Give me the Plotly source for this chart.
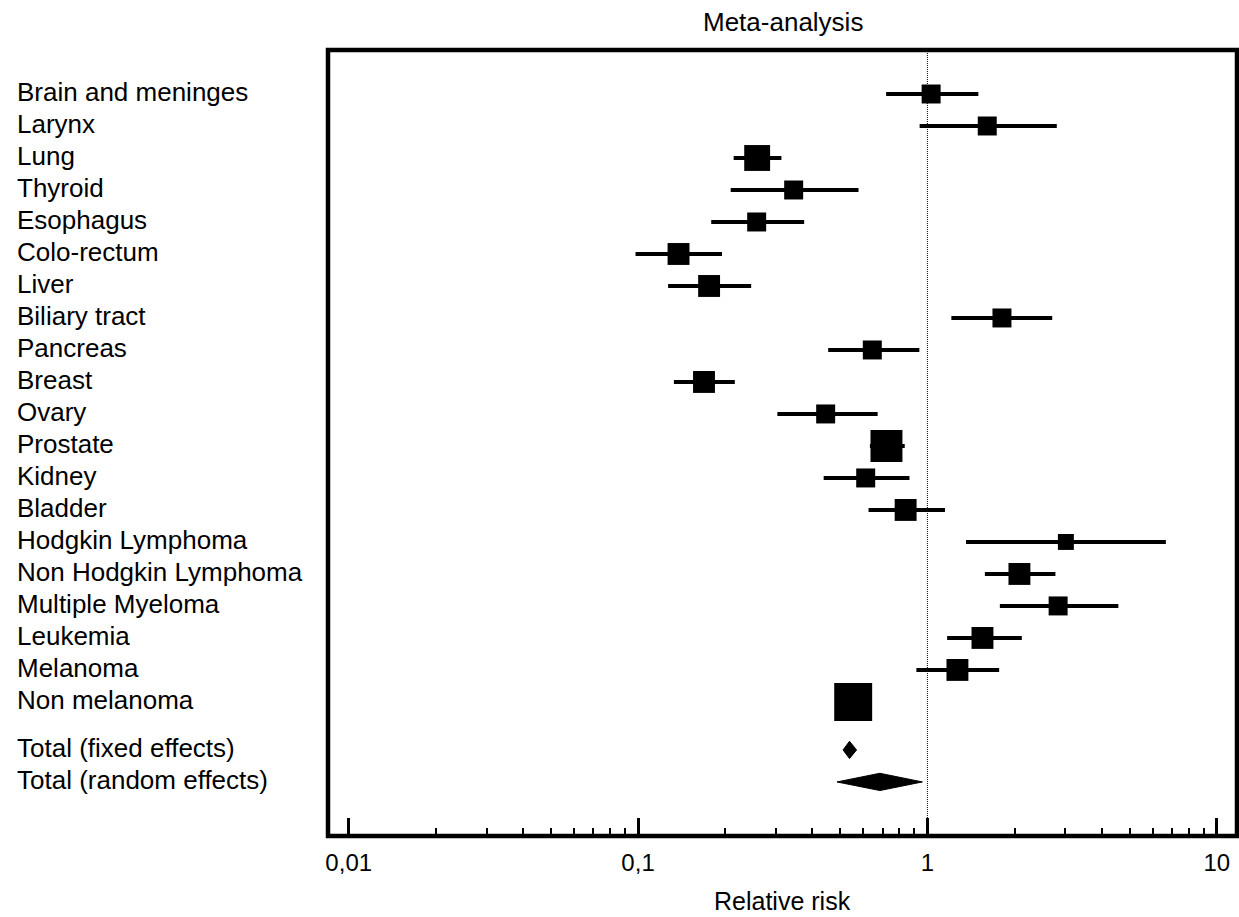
import math
import plotly.graph_objects as go

# ---------------- data ----------------
sites = [
    "Brain and meninges", "Larynx", "Lung", "Thyroid", "Esophagus",
    "Colo-rectum", "Liver", "Biliary tract", "Pancreas", "Breast",
    "Ovary", "Prostate", "Kidney", "Bladder", "Hodgkin Lymphoma",
    "Non Hodgkin Lymphoma", "Multiple Myeloma", "Leukemia", "Melanoma",
    "Non melanoma",
]
rr = [1.03, 1.61, 0.258, 0.345, 0.257, 0.138, 0.176, 1.81, 0.645, 0.169,
      0.445, 0.722, 0.612, 0.841, 3.01, 2.08, 2.83, 1.55, 1.27, 0.554]
ci_low = [0.72, 0.94, 0.214, 0.209, 0.179, 0.098, 0.127, 1.21, 0.454, 0.133,
          0.303, 0.633, 0.438, 0.626, 1.36, 1.58, 1.78, 1.17, 0.916, 0.53]
ci_high = [1.50, 2.80, 0.313, 0.578, 0.375, 0.195, 0.246, 2.70, 0.938, 0.216,
           0.673, 0.835, 0.867, 1.15, 6.67, 2.77, 4.57, 2.12, 1.77, 0.58]
weight = [3.6, 3.6, 6.7, 3.6, 3.6, 4.8, 4.8, 3.6, 3.6, 4.8,
          3.6, 10.2, 3.6, 4.8, 2.55, 4.8, 3.6, 4.8, 4.8, 14.4]

total_labels = ["Total (fixed effects)", "Total (random effects)"]
total_rr = [0.538, 0.685]
total_low = [0.511, 0.487]
total_high = [0.569, 0.961]

tick_vals = [0.01, 0.1, 1, 10]
tick_text = ["0,01", "0,1", "1", "10"]

# ---------------- layout constants ----------------
FONT = "Liberation Sans, Arial, Helvetica, sans-serif"
row_y = list(range(len(sites)))
total_y = [len(sites) + 0.5, len(sites) + 1.5]
Y_TOP, Y_BOTTOM = -1.375, 23.19
DIAMOND_H = 0.27
LABEL_SHIFT = -0.05  # labels sit slightly above the marker centre

fig = go.Figure()

# reference line at RR = 1
fig.add_trace(go.Scatter(
    x=[1, 1], y=[Y_BOTTOM, Y_TOP], mode="lines",
    line=dict(color="black", width=1, dash="1px,1px"),
    hoverinfo="skip", showlegend=False))

# confidence intervals
cx, cy = [], []
for yv, lo, hi in zip(row_y, ci_low, ci_high):
    cx += [lo, hi, None]
    cy += [yv, yv, None]
fig.add_trace(go.Scatter(
    x=cx, y=cy, mode="lines", line=dict(color="black", width=4),
    hoverinfo="skip", showlegend=False))

# point estimates (squares sized by weight)
fig.add_trace(go.Scatter(
    x=rr, y=row_y, mode="markers",
    marker=dict(symbol="square", color="black", opacity=1,
                size=[10 * math.sqrt(w) for w in weight],
                line=dict(width=0)),
    text=sites, hoverinfo="text+x", showlegend=False))

# pooled diamonds
for est, lo, hi, yv in zip(total_rr, total_low, total_high, total_y):
    fig.add_trace(go.Scatter(
        x=[lo, est, hi, est, lo],
        y=[yv, yv - DIAMOND_H, yv, yv + DIAMOND_H, yv],
        mode="lines", fill="toself", fillcolor="black",
        line=dict(color="black", width=1),
        hoverinfo="skip", showlegend=False))

# left-aligned row labels
annotations = []
lab_x = (15 - 328) / 909
for name, yv in zip(sites + total_labels, row_y + total_y):
    annotations.append(dict(
        text=name, x=lab_x, xref="paper", y=yv + LABEL_SHIFT, yref="y",
        xanchor="left", yanchor="middle", showarrow=False,
        font=dict(family=FONT, size=26, color="black")))

# title and x-axis title
annotations.append(dict(
    text="Meta-analysis", x=0.5, xref="paper", y=(836 - 22) / 786, yref="paper",
    xanchor="center", yanchor="middle", showarrow=False,
    font=dict(family=FONT, size=26, color="black")))
annotations.append(dict(
    text="Relative risk", x=0.5, xref="paper", y=(836 - 901) / 786, yref="paper",
    xanchor="center", yanchor="middle", showarrow=False,
    font=dict(family=FONT, size=25, color="black")))

minor_vals = [k * 10.0 ** e for e in (-2, -1, 0) for k in range(2, 10)]

fig.update_layout(
    width=1239, height=917,
    margin=dict(l=328, r=2, t=50, b=81),
    paper_bgcolor="white", plot_bgcolor="white",
    font=dict(family=FONT, color="black"),
    showlegend=False,
    annotations=annotations,
    xaxis=dict(
        type="log", range=[-2.0716, 1.070],
        tickmode="array", tickvals=tick_vals, ticktext=tick_text,
        ticks="inside", ticklen=18, tickwidth=3, tickcolor="black",
        ticklabelstandoff=10,
        tickfont=dict(family=FONT, size=24, color="black"),
        showgrid=False, zeroline=False, showline=False,
        minor=dict(tickmode="array", tickvals=minor_vals, ticks="inside",
                   ticklen=8, tickwidth=2, tickcolor="black", showgrid=False),
    ),
    yaxis=dict(range=[Y_BOTTOM, Y_TOP], visible=False,
               showgrid=False, zeroline=False),
    shapes=[dict(type="rect", xref="paper", yref="paper", x0=0, x1=1, y0=0, y1=1,
                 line=dict(color="black", width=4.5), layer="above")],
)

fig.write_html(
    "out.html",
    config={"displayModeBar": False},
    post_script="document.body.style.margin='0px';document.body.style.overflow='hidden';",
)
